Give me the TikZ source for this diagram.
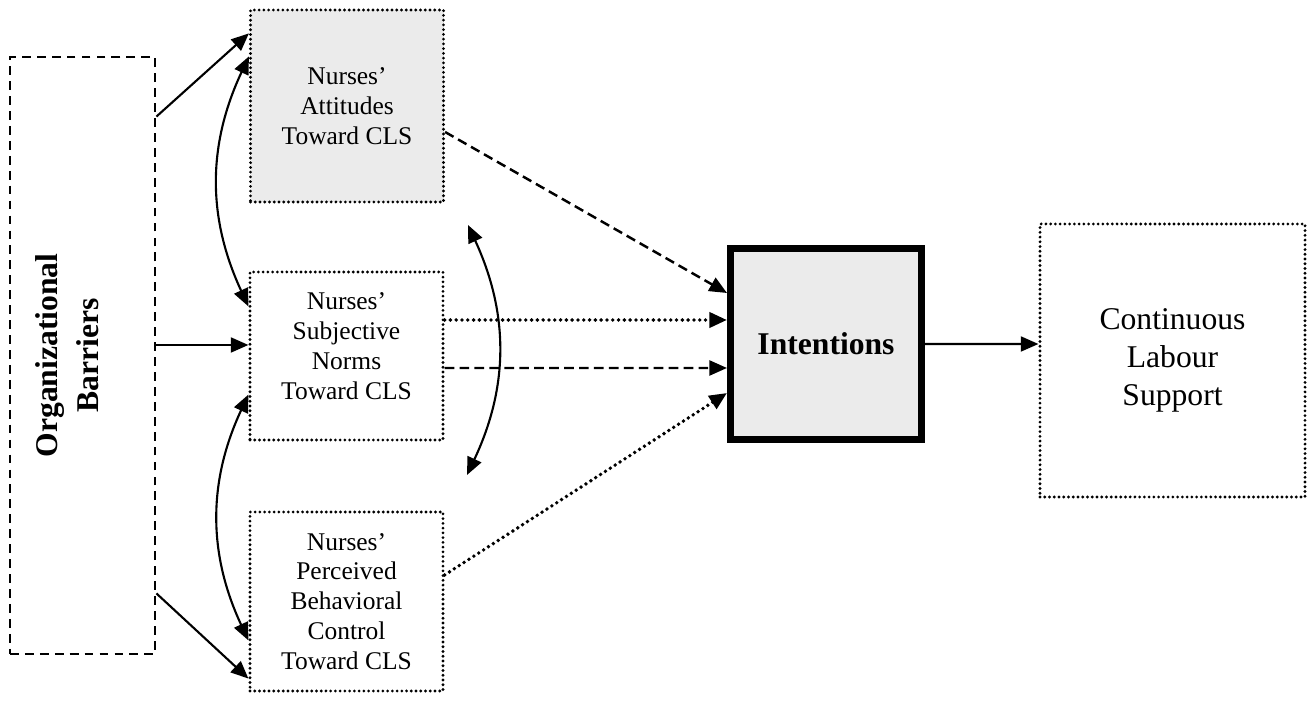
\documentclass[tikz,border=0pt]{standalone}
\usepackage{fontspec}
\setmainfont{Liberation Serif}
\usepackage{graphicx}
\usetikzlibrary{arrows.meta,positioning}

\begin{document}
\begin{tikzpicture}[>={Triangle[length=10pt,width=8.5pt]},
		box/.style={draw,line width=1.8pt,dash pattern=on 0pt off 2.7pt,line cap=round,align=center,
			font=\fontsize{14.5}{17}\selectfont,minimum width=3.86cm},
		barrier/.style={draw,line width=1.6pt,dash pattern=on 5pt off 3.5pt,minimum width=2.9cm,minimum height=11.94cm},
		goal/.style={draw,line width=4pt,fill=gray!16,minimum width=3.82cm,minimum height=3.82cm,
			font=\fontsize{18}{22}\selectfont\bfseries},
		link/.style={->,line width=1.2pt},
		dashlink/.style={link,line width=1.4pt,dash pattern=on 5.5pt off 3pt},
		dotlink/.style={link,line width=2.2pt,dash pattern=on 0pt off 3.3pt,line cap=round}]
		      \useasboundingbox (0,0) rectangle (26.28,14.04);

		      \node[barrier] (ob) at (1.65,6.93)
		            {\rotatebox{90}{\fontsize{18}{23}\selectfont\bfseries\begin{tabular}{@{}c@{}}Organizational\\Barriers\end{tabular}}\kern0.5cm};
		      \node[box,fill=gray!16,minimum height=3.84cm] (att) at (6.94,11.92) {Nurses'\\Attitudes\\Toward CLS};
		      \node[box,minimum height=3.36cm] (norm) at (6.93,6.92) {Nurses'\\Subjective\\Norms\\Toward CLS\\[-0.2cm]};
		      \node[box,minimum height=3.58cm] (pbc) at (6.93,2.01) {Nurses'\\Perceived\\Behavioral\\Control\\Toward CLS};
		      \node[goal] (int) at (16.52,7.16) {Intentions};
		      \node[box,minimum width=5.3cm,minimum height=5.46cm,font=\fontsize{18}{21.5}\selectfont] (cls) at (23.45,6.83)
		            {Continuous\\Labour\\Support};
		      \coordinate (swing_top) at (9.36,9.54);
		      \coordinate (swing_bot) at (9.34,4.54);

		      \path[link] ([yshift=-1.22cm]ob.north east) edge ([yshift=-0.5cm]att.north west)
		                ([yshift=0.21cm]ob.east) edge ([yshift=0.22cm]norm.west)
		                ([yshift=1.24cm]ob.south east) edge ([yshift=0.28cm]pbc.south west)
		                (int.east) edge ([yshift=0.33cm]cls.west);
		      \path[link,<->] ([yshift=-0.96cm]att.north west) edge [bend right=25] ([yshift=-0.72cm]norm.north west)
		                ([yshift=0.94cm]norm.south west) edge [bend right=25] ([yshift=-2.6cm]pbc.north west)
		                (swing_top) edge [bend left=25] (swing_bot);
		      \path[dashlink] ([yshift=-0.52cm]att.east) edge ([yshift=1.02cm]int.west)
		                ([yshift=-0.24cm]norm.east) edge ([yshift=-0.48cm]int.west);
		      \path[dotlink] ([yshift=0.72cm]norm.east) edge ([yshift=0.48cm]int.west)
		                ([yshift=0.53cm]pbc.east) edge ([yshift=-0.98cm]int.west);
		    \end{tikzpicture}
\end{document}
